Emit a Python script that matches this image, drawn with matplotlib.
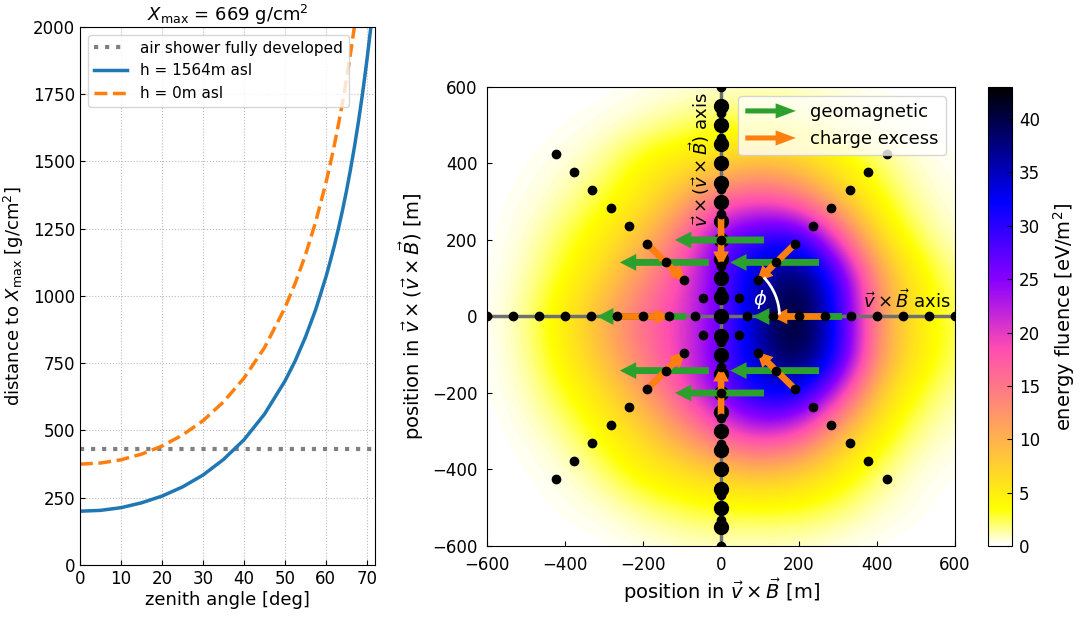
import numpy as np
import matplotlib
matplotlib.use('Agg')
import matplotlib.pyplot as plt
import matplotlib.patches as mpatches
from matplotlib.legend_handler import HandlerPatch

# left panel: distance to Xmax vs zenith angle
zen_blue = [0, 5, 10, 15, 20, 25, 30, 35, 40, 45, 50, 52.5, 55, 57.5, 60,
            61, 62, 63, 64, 65, 66, 67, 68, 69, 70, 71, 72]
dist_blue = [200, 203, 213, 231, 256, 290, 334, 392, 465, 560, 683, 758, 846, 948, 1069,
             1124, 1182, 1245, 1313, 1387, 1468, 1555, 1651, 1756, 1872, 2000, 2143]
zen_orange = [0, 5, 10, 15, 20, 25, 30, 35, 40, 45, 50, 52.5, 55, 57.5, 60,
              61, 62, 63, 64, 65, 66, 67, 68]
dist_orange = [375, 379, 391, 412, 442, 483, 536, 606, 694, 807, 955, 1046, 1151, 1274, 1419,
               1484, 1555, 1631, 1712, 1801, 1898, 2003, 2118]
full_dev = 430

# right panel: energy fluence grid [eV/m^2], rows y=-600..600, cols x=-600..600 (100 m steps)
grid_x = [-600, -500, -400, -300, -200, -100, 0, 100, 200, 300, 400, 500, 600]
grid_y = [-600, -500, -400, -300, -200, -100, 0, 100, 200, 300, 400, 500, 600]
fluence = [
    [0, 0,   0,   0,   0.2, 0.5, 0.6, 0.6, 0.5, 0.2, 0,   0,   0],
    [0, 0,   0.2, 0.5, 1.5, 2.5, 3.0, 3.0, 3.0, 2.0, 0.8, 0.2, 0],
    [0, 0.1, 0.5, 2.0, 4.5, 6.0, 8.0, 9.5, 8.0, 5.0, 2.0, 0.5, 0.1],
    [0, 0.3, 1.5, 4.0, 7.0, 12,  18,  22,  19,  10,  4.5, 1.5, 0.5],
    [0, 0.8, 3.0, 6.0, 11,  18,  26,  33,  33,  21,  7.5, 3.0, 1.0],
    [0, 1.2, 4.5, 9.0, 15,  20,  27,  36,  42,  32,  12,  5.0, 2.0],
    [0, 1.5, 5.0, 10,  16,  20,  26,  37,  43,  31,  12,  5.0, 2.0],
    [0, 1.0, 3.5, 7.0, 13,  19,  27,  36,  41,  30,  12,  4.5, 1.5],
    [0, 0.6, 2.5, 5.0, 9.0, 16,  27,  31,  32,  19,  6.5, 2.2, 0.6],
    [0, 0.3, 1.2, 3.0, 5.5, 10,  17,  19,  16,  9.0, 3.5, 1.2, 0.3],
    [0, 0.1, 0.5, 1.5, 4.0, 5.5, 7.0, 9.0, 7.5, 4.5, 2.0, 0.6, 0.1],
    [0, 0,   0.1, 0.4, 1.0, 2.0, 2.5, 3.0, 2.5, 1.5, 0.8, 0.2, 0],
    [0, 0,   0,   0,   0.2, 0.4, 0.5, 0.5, 0.4, 0.2, 0,   0,   0],
]
# antenna positions: star arms every 45 deg, radii in m
star_r = [66.7, 133.3, 200, 266.7, 333.3, 400, 466.7, 533.3, 600]
star_phi = [0, 45, 90, 135, 180, 225, 270, 315]
vaxis_y = [-550, -500, -450, -400, -350, -300, -250, -200, -150, -100, -50, 0,
           50, 100, 150, 200, 250, 300, 350, 400, 450, 500, 550]
# arrows at r=200 on each arm
arrow_phi = [0, 45, 90, 135, 180, 225, 270, 315]
arrow_r = 200

plt.rcParams['font.family'] = ['DejaVu Sans']
fig = plt.figure(figsize=(10.9, 6.17), dpi=100)

# ---------------- left panel
ax1 = fig.add_axes([0.0734, 0.0843, 0.2706, 0.872])
ax1.axhline(full_dev, ls=':', color='gray', lw=3, label='air shower fully developed')
ax1.plot(zen_blue, dist_blue, color='#1f77b4', lw=2.5, label='h = 1564m asl')
ax1.plot(zen_orange, dist_orange, color='#ff7f0e', lw=2.5, ls='--', label='h = 0m asl')
ax1.set_xlim(0, 72)
ax1.set_ylim(0, 2000)
ax1.set_xticks(range(0, 71, 10))
ax1.set_yticks(range(0, 2001, 250))
ax1.grid(True, ls=':', color='#bbbbbb', lw=0.8)
ax1.tick_params(direction='in', labelsize=12)
ax1.set_xlabel('zenith angle [deg]', fontsize=13, labelpad=2)
ax1.set_ylabel(r'distance to $X_\mathrm{max}$ [g/cm$^2$]', fontsize=13, labelpad=5)
ax1.set_title(r'$X_\mathrm{max}$ = 669 g/cm$^2$', fontsize=13, pad=3)
ax1.legend(loc='upper left', fontsize=11, handlelength=2.2)

# ---------------- right panel
ax2 = fig.add_axes([0.4468, 0.1151, 0.4294, 0.7439])
im = ax2.imshow(np.array(fluence), origin='lower', extent=(-650, 650, -650, 650),
                interpolation='bicubic', cmap='gnuplot2_r', vmin=0, vmax=43,
                aspect='auto', zorder=0)
ax2.plot([-600, 600], [0, 0], color='#707070', lw=2.5, zorder=1)
ax2.plot([0, 0], [-600, 600], color='#707070', lw=2.5, zorder=1)
ax2.plot(np.zeros(len(vaxis_y)), vaxis_y, 'o', color='k', ms=10, zorder=2)

for p in arrow_phi:
    c, s = np.cos(np.radians(p)), np.sin(np.radians(p))
    px, py = arrow_r * c, arrow_r * s
    ga = ax2.arrow(px + 110, py, -228, 0, width=18, head_width=44, head_length=42,
                   length_includes_head=True, color='#2ca02c', lw=0, zorder=3)
    oa = ax2.arrow(262 * c, 262 * s, -132 * c, -132 * s, width=17, head_width=40,
                   head_length=40, length_includes_head=True, color='#ff7f0e', lw=0, zorder=4)

for p in star_phi:
    c, s = np.cos(np.radians(p)), np.sin(np.radians(p))
    ax2.plot(np.array(star_r) * c, np.array(star_r) * s, 'o', color='k', ms=6, zorder=5)

ax2.add_patch(mpatches.Arc((0, 0), 300, 300, theta1=2, theta2=43, color='white', lw=2, zorder=6))
ax2.text(100, 45, r'$\phi$', color='white', fontsize=14, ha='center', va='center', zorder=6)
ax2.text(590, 12, r'$\vec{v}\times\vec{B}$ axis', fontsize=13, ha='right', va='bottom', zorder=6)
ax2.text(-22, 585, r'$\vec{v}\times(\vec{v}\times\vec{B})$ axis', fontsize=13, rotation=90,
         ha='right', va='top', zorder=6)

ax2.set_xlim(-600, 600)
ax2.set_ylim(-600, 600)
ax2.set_xticks(range(-600, 601, 200))
ax2.set_yticks(range(-600, 601, 200))
ax2.tick_params(direction='in', labelsize=12, pad=7)
ax2.set_xlabel(r'position in $\vec{v}\times\vec{B}$ [m]', fontsize=14, labelpad=2)
ax2.set_ylabel(r'position in $\vec{v}\times(\vec{v}\times\vec{B})$ [m]', fontsize=14)


def make_arrow(legend, orig_handle, xdescent, ydescent, width, height, fontsize):
    return mpatches.FancyArrow(0, 0.5 * height, width, 0, width=0.4 * height,
                               head_width=1.2 * height, head_length=0.4 * width,
                               length_includes_head=True)


ax2.legend([ga, oa], ['geomagnetic', 'charge excess'], loc='upper right', fontsize=13,
           handlelength=2.8, handler_map={mpatches.FancyArrow: HandlerPatch(patch_func=make_arrow)})

cax = fig.add_axes([0.9064, 0.1151, 0.022, 0.7439])
cb = fig.colorbar(im, cax=cax)
cb.set_ticks(range(0, 41, 5))
cb.ax.tick_params(direction='in', labelsize=12, pad=5)
cb.set_label(r'energy fluence [eV/m$^2$]', fontsize=14, labelpad=8)

fig.savefig('out.png', dpi=100)
